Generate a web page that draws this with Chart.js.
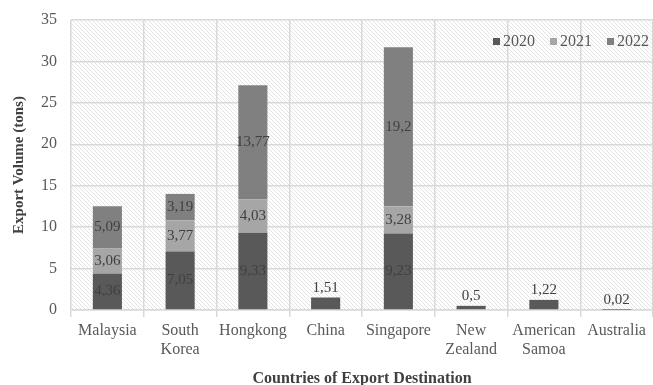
<!DOCTYPE html>
<html lang="en">
<head>
<meta charset="UTF-8">
<title>Export Volume by Destination</title>
<script src="https://cdn.jsdelivr.net/npm/chart.js@4.4.0/dist/chart.umd.min.js"></script>
<style>
html, body { margin: 0; padding: 0; background: #fff; }
#wrap { width: 653px; height: 385px; }
</style>
</head>
<body>
<div id="wrap"><canvas id="myChart" width="653" height="385"></canvas></div>
<script>
// data
var countries = ['Malaysia', ['South', 'Korea'], 'Hongkong', 'China', 'Singapore', ['New', 'Zealand'], ['American', 'Samoa'], 'Australia'];
var years = ['2020', '2021', '2022'];
var vol2020 = [4.36, 7.05, 9.33, 1.51, 9.23, 0.5, 1.22, 0.02];
var vol2021 = [3.06, 3.77, 4.03, null, 3.28, null, null, null];
var vol2022 = [5.09, 3.19, 13.77, null, 19.2, null, null, null];
var yTicks = [0, 5, 10, 15, 20, 25, 30, 35];

var colors = ['#595959', '#a6a6a6', '#808080'];
var serif = '"Liberation Serif", "Times New Roman", serif';

// diagonal hatch for the plot background
function makeHatch() {
  var c = document.createElement('canvas');
  c.width = 4; c.height = 4;
  var x = c.getContext('2d');
  x.fillStyle = '#ffffff';
  x.fillRect(0, 0, 4, 4);
  x.strokeStyle = '#e3e3e3';
  x.lineWidth = 1;
  x.beginPath();
  x.moveTo(-1, -1); x.lineTo(5, 5);
  x.moveTo(-1, 3); x.lineTo(1, 5);
  x.moveTo(3, -1); x.lineTo(5, 1);
  x.stroke();
  return x.createPattern(c, 'repeat');
}

var hatchPlugin = {
  id: 'hatch',
  beforeDraw: function(chart) {
    var a = chart.chartArea, ctx = chart.ctx;
    ctx.save();
    ctx.fillStyle = makeHatch();
    ctx.fillRect(a.left, a.top, a.right - a.left, a.bottom - a.top);
    ctx.restore();
  }
};

function fmt(v) { return String(v).replace('.', ','); }

var labelPlugin = {
  id: 'valueLabels',
  afterDatasetsDraw: function(chart) {
    var ctx = chart.ctx;
    ctx.save();
    ctx.font = '15px ' + serif;
    ctx.fillStyle = '#404040';
    ctx.textAlign = 'center';
    chart.data.datasets.forEach(function(ds, di) {
      var meta = chart.getDatasetMeta(di);
      meta.data.forEach(function(bar, i) {
        var v = ds.data[i];
        if (v === null) return;
        var single = vol2021[i] === null && vol2022[i] === null;
        if (single) {
          ctx.textBaseline = 'bottom';
          ctx.fillText(fmt(v), bar.x, bar.y - 2);
        } else {
          ctx.textBaseline = 'middle';
          ctx.fillText(fmt(v), bar.x, (bar.y + bar.base) / 2);
        }
      });
    });
    ctx.restore();
  }
};

var legendPlugin = {
  id: 'innerLegend',
  afterDraw: function(chart) {
    var ctx = chart.ctx;
    var xs = [493, 550, 607];
    var y = 42;
    ctx.save();
    ctx.font = '16px ' + serif;
    ctx.textBaseline = 'middle';
    ctx.textAlign = 'left';
    years.forEach(function(yr, i) {
      ctx.fillStyle = colors[i];
      ctx.fillRect(xs[i], y - 4, 7, 7);
      ctx.fillStyle = '#595959';
      ctx.fillText(yr, xs[i] + 10, y);
    });
    ctx.restore();
  }
};

var ctx = document.getElementById('myChart').getContext('2d');
var myChart = new Chart(ctx, {
  type: 'bar',
  data: {
    labels: countries,
    datasets: [
      { label: years[0], data: vol2020, backgroundColor: colors[0] },
      { label: years[1], data: vol2021, backgroundColor: colors[1] },
      { label: years[2], data: vol2022, backgroundColor: colors[2] }
    ]
  },
  options: {
    responsive: false,
    animation: false,
    barPercentage: 0.4,
    categoryPercentage: 1,
    layout: { padding: { top: 20, right: 0, left: 0, bottom: 0 } },
    plugins: {
      legend: { display: false },
      tooltip: { enabled: false }
    },
    scales: {
      x: {
        stacked: true,
        grid: { color: '#d9d9d9', lineWidth: 1.5, offset: true, tickLength: 7, drawTicks: true },
        border: { color: '#d9d9d9', width: 1.5 },
        ticks: { color: '#595959', font: { family: serif, size: 16 }, maxRotation: 0, autoSkip: false, padding: 4 },
        title: { display: true, text: 'Countries of Export Destination', color: '#404040', font: { family: serif, size: 16, weight: 'bold' }, padding: { top: 12, bottom: -3 } },
        afterFit: function(s) { s.height = 75; s.paddingLeft = 0; s.paddingRight = 0; }
      },
      y: {
        stacked: true,
        min: 0,
        max: 35,
        afterBuildTicks: function(s) { s.ticks = yTicks.map(function(v) { return { value: v }; }); },
        grid: { color: '#d9d9d9', lineWidth: 1.5, drawTicks: false },
        border: { display: false },
        ticks: { color: '#595959', font: { family: serif, size: 16 }, padding: 14 },
        title: { display: true, text: 'Export Volume (tons)', color: '#404040', font: { family: serif, size: 15, weight: 'bold' }, padding: { top: 10, bottom: 6 } },
        afterFit: function(s) { s.width = 71; s.paddingTop = 0; s.paddingBottom = 0; }
      }
    }
  },
  plugins: [hatchPlugin, labelPlugin, legendPlugin]
});
</script>
</body>
</html>
